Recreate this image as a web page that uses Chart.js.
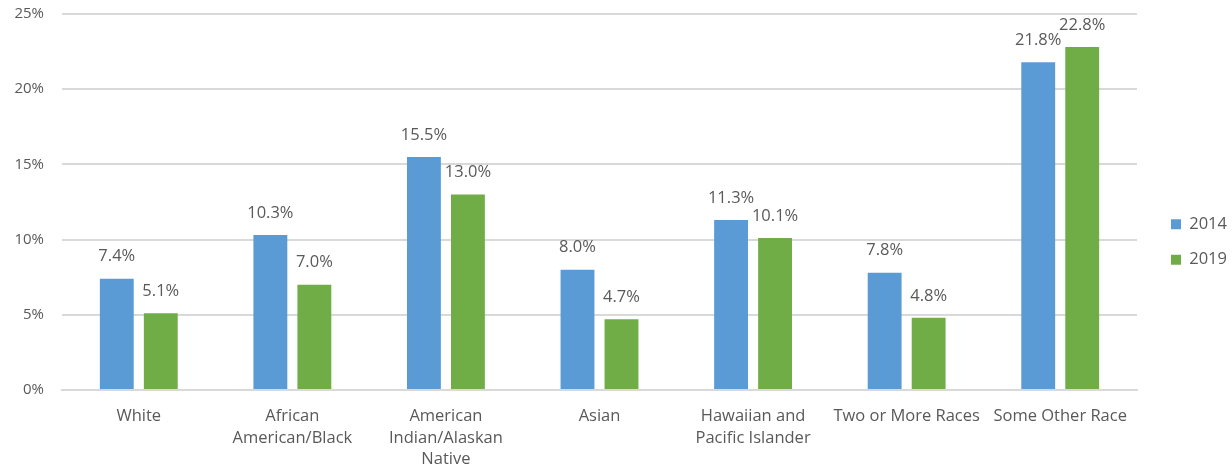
<!DOCTYPE html>
<html>
<head>
<meta charset="utf-8">
<script src="https://cdn.jsdelivr.net/npm/chart.js@4/dist/chart.umd.min.js"></script>
<style>
    html, body { margin: 0; padding: 0; background: #ffffff; }
    #wrap { width: 1232px; height: 472px; position: relative; }
</style>
</head>
<body>
<div id="wrap"><canvas id="raceChart"></canvas></div>
<script>
// ======================================================
// Chart Data
// ======================================================

const categories = [
    "White",
    ["African", "American/Black"],
    ["American", "Indian/Alaskan", "Native"],
    "Asian",
    ["Hawaiian and", "Pacific Islander"],
    "Two or More Races",
    "Some Other Race"
];

const values2014 = [7.4, 10.3, 15.5, 8.0, 11.3, 7.8, 21.8];
const values2019 = [5.1, 7.0, 13.0, 4.7, 10.1, 4.8, 22.8];

const seriesNames = ["2014", "2019"];

const textColor = "#595959";
const fontFamily = "'Open Sans', 'Noto Sans', sans-serif";


// ======================================================
// Value labels above bars
// ======================================================

const barLabels = {
    id: "barLabels",
    afterDatasetsDraw(chart) {
        const ctx = chart.ctx;
        ctx.save();
        ctx.font = "16.5px " + fontFamily;
        ctx.fillStyle = textColor;
        ctx.textAlign = "center";
        ctx.textBaseline = "middle";
        chart.data.datasets.forEach((ds, i) => {
            chart.getDatasetMeta(i).data.forEach((bar, j) => {
                ctx.fillText(ds.data[j].toFixed(1) + "%", bar.x, bar.y - 22);
            });
        });
        ctx.restore();
    }
};


// ======================================================
// Push legend a little further right
// ======================================================

const legendShift = {
    id: "legendShift",
    afterLayout(chart) {
        if (chart.legend) {
            chart.legend.left += 15;
            chart.legend.right += 15;
        }
    }
};


// ======================================================
// Create Chart
// ======================================================

const ctx = document.getElementById("raceChart").getContext("2d");

new Chart(ctx, {
    type: "bar",
    data: {
        labels: categories,
        datasets: [
            {
                label: seriesNames[0],
                data: values2014,
                backgroundColor: "#5B9BD5",
                barPercentage: 0.77,
                categoryPercentage: 0.573
            },
            {
                label: seriesNames[1],
                data: values2019,
                backgroundColor: "#70AD47",
                barPercentage: 0.77,
                categoryPercentage: 0.573
            }
        ]
    },
    options: {
        responsive: true,
        maintainAspectRatio: false,
        animation: false,
        layout: {
            padding: 0
        },
        plugins: {
            legend: {
                position: "right",
                title: {
                    display: true,
                    text: " ",
                    font: { size: 1, lineHeight: 1 },
                    padding: { top: 11, bottom: 0 }
                },
                labels: {
                    boxWidth: 10,
                    boxHeight: 10,
                    padding: 19,
                    color: textColor,
                    font: { size: 16.5, family: fontFamily }
                }
            },
            tooltip: { enabled: false }
        },
        scales: {
            x: {
                afterFit: (scale) => {
                    scale.height = 82;
                    scale.paddingRight = 95;
                },
                grid: { display: false, drawTicks: false },
                border: { color: "#d9d9d9", width: 2 },
                ticks: {
                    color: textColor,
                    maxRotation: 0,
                    autoSkip: false,
                    padding: 16,
                    font: { size: 16.5, family: fontFamily, lineHeight: 1.3 }
                }
            },
            y: {
                min: 0,
                max: 25,
                afterFit: (scale) => {
                    scale.width = 62;
                    scale.paddingTop = 14;
                    scale.paddingBottom = 9;
                },
                grid: { color: "#d9d9d9", lineWidth: 2, drawTicks: false },
                border: { display: false },
                ticks: {
                    stepSize: 5,
                    padding: 18,
                    color: textColor,
                    font: { size: 15, family: fontFamily },
                    callback: (v) => v + "%"
                }
            }
        }
    },
    plugins: [barLabels, legendShift]
});
</script>
</body>
</html>
